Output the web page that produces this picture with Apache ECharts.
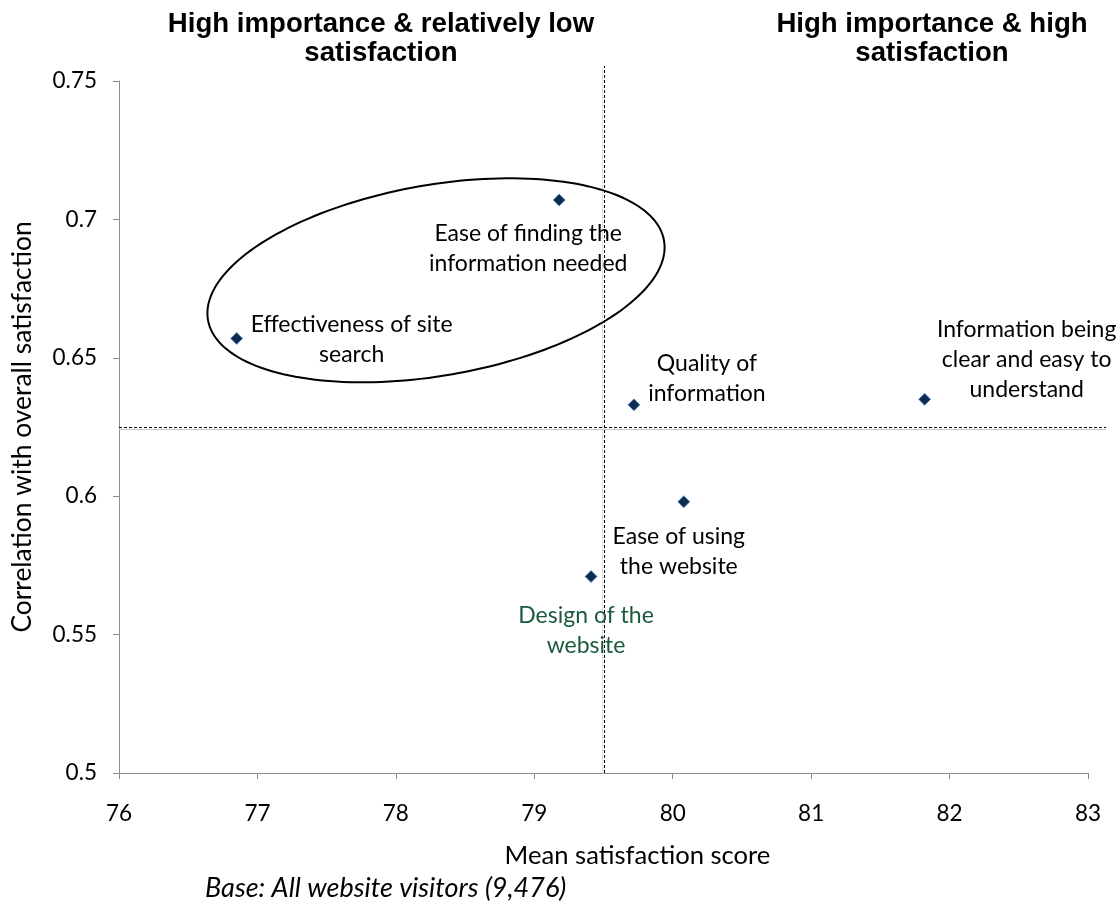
<!DOCTYPE html>
<html>
<head>
<meta charset="utf-8">
<title>Satisfaction drivers</title>
<script src="https://cdn.jsdelivr.net/npm/echarts@6/dist/echarts.min.js"></script>
<style>
  html, body { margin: 0; padding: 0; background: #ffffff; }
  #chart { width: 1119px; height: 903px; }
</style>
</head>
<body>
<div id="chart"></div>
<script>
// Website attributes: mean satisfaction score (x) vs correlation with overall satisfaction (y)
const attributes = [
  'Effectiveness of site\nsearch',
  'Ease of finding the\ninformation needed',
  'Quality of\ninformation',
  'Information being\nclear and easy to\nunderstand',
  'Ease of using\nthe website',
  'Design of the\nwebsite'
];
const meanSatisfaction = [76.85, 79.18, 79.72, 81.82, 80.08, 79.41];
const correlation = [0.657, 0.707, 0.633, 0.635, 0.598, 0.571];

const xTicks = [76, 77, 78, 79, 80, 81, 82, 83];
const yTicks = [0.5, 0.55, 0.6, 0.65, 0.7, 0.75];

// Quadrant dividers
const dividerSatisfaction = 79.5;
const dividerCorrelation = 0.625;

// Centre of the highlighted group
const highlightCentre = [78.29, 0.678];

const quadrantTitles = [
  'High importance & relatively low\nsatisfaction',
  'High importance & high\nsatisfaction'
];
const baseNote = 'Base: All website visitors (9,476)';

// Label placement (pixel offsets from each marker) and colours
const labelOffsets = [[115, 1], [-31, 49], [73, -26], [102, -40], [-5, 50], [-5, 54]];
const labelColors = ['#000000', '#000000', '#000000', '#000000', '#000000', '#1b5a3c'];

const BODY_FONT = 'Lato, "Open Sans", sans-serif';
const TITLE_FONT = '"Liberation Sans", Arial, sans-serif';
const AXIS_GREY = '#8c8c8c';

const X_MIN = xTicks[0], X_MAX = xTicks[xTicks.length - 1];
const Y_MIN = yTicks[0], Y_MAX = yTicks[yTicks.length - 1];

const points = attributes.map((name, i) => ({
  name: name,
  value: [meanSatisfaction[i], correlation[i]],
  label: {
    show: true,
    formatter: name,
    position: 'inside',
    offset: labelOffsets[i],
    align: 'center',
    verticalAlign: 'middle',
    color: labelColors[i],
    fontFamily: BODY_FONT,
    fontWeight: 'normal',
    fontSize: 23,
    lineHeight: 30
  }
}));

const chart = echarts.init(document.getElementById('chart'));

chart.setOption({
  animation: false,
  backgroundColor: '#ffffff',
  grid: { left: 119, right: 31, top: 81, bottom: 130, containLabel: false },
  xAxis: {
    type: 'value',
    min: X_MIN,
    max: X_MAX,
    interval: 1,
    name: 'Mean satisfaction score',
    nameLocation: 'middle',
    nameGap: 70,
    nameTextStyle: {
      fontFamily: BODY_FONT, fontSize: 25.6, color: '#000',
      padding: [0, 0, 0, 68]
    },
    axisLine: { show: true, lineStyle: { color: AXIS_GREY, width: 1 } },
    axisTick: { show: true, inside: false, length: 6, lineStyle: { color: AXIS_GREY } },
    axisLabel: { margin: 29, fontFamily: BODY_FONT, fontSize: 22.5, color: '#000' },
    splitLine: { show: false }
  },
  yAxis: {
    type: 'value',
    min: Y_MIN,
    max: Y_MAX,
    interval: 0.05,
    name: 'Correlation with overall satisfaction',
    nameLocation: 'middle',
    nameRotate: 90,
    nameGap: 84,
    nameTextStyle: { fontFamily: BODY_FONT, fontSize: 26.4, color: '#000' },
    axisLine: { show: true, lineStyle: { color: AXIS_GREY, width: 1 } },
    axisTick: { show: true, inside: false, length: 6, lineStyle: { color: AXIS_GREY } },
    axisLabel: {
      margin: 22,
      fontFamily: BODY_FONT,
      fontSize: 22.5,
      color: '#000',
      formatter: v => String(Math.round(v * 100) / 100)
    },
    splitLine: { show: false }
  },
  graphic: [
    {
      type: 'text', x: 381, y: 10,
      style: {
        text: quadrantTitles[0], align: 'center', verticalAlign: 'top',
        font: 'bold 27.6px ' + TITLE_FONT, lineHeight: 29, fill: '#000'
      }
    },
    {
      type: 'text', x: 932, y: 10,
      style: {
        text: quadrantTitles[1], align: 'center', verticalAlign: 'top',
        font: 'bold 27.6px ' + TITLE_FONT, lineHeight: 29, fill: '#000'
      }
    },
    {
      type: 'text', x: 205, y: 888,
      style: {
        text: baseNote, align: 'left', verticalAlign: 'middle',
        font: 'italic 27px ' + BODY_FONT, fill: '#000'
      }
    }
  ],
  series: [
    {
      // Quadrant divider lines, slightly extended past the plot edges
      type: 'custom',
      silent: true,
      z: 1,
      data: [[dividerSatisfaction, dividerCorrelation]],
      renderItem: function (params, api) {
        const p = api.coord([api.value(0), api.value(1)]);
        const bottom = api.coord([api.value(0), Y_MIN]);
        const top = api.coord([api.value(0), Y_MAX]);
        const left = api.coord([X_MIN, api.value(1)]);
        const right = api.coord([X_MAX, api.value(1)]);
        const vx = Math.round(p[0]) + 0.5;
        const hy = Math.round(p[1]) + 0.5;
        const dash = { stroke: '#000', lineWidth: 1, lineDash: [3, 2] };
        return {
          type: 'group',
          children: [
            { type: 'line', shape: { x1: left[0], y1: hy + 2, x2: right[0] + 18, y2: hy + 2 },
              style: { stroke: '#c8c8c8', lineWidth: 1 } },
            { type: 'line', shape: { x1: vx - 2, y1: bottom[1], x2: vx - 2, y2: top[1] - 15 },
              style: { stroke: '#e0e0e0', lineWidth: 1 } },
            { type: 'line', shape: { x1: vx, y1: bottom[1], x2: vx, y2: top[1] - 15 }, style: dash },
            { type: 'line', shape: { x1: left[0], y1: hy, x2: right[0] + 18, y2: hy }, style: dash }
          ]
        };
      }
    },
    {
      // Ellipse around the high-importance / low-satisfaction group
      type: 'custom',
      silent: true,
      z: 2,
      data: [highlightCentre],
      renderItem: function (params, api) {
        const c = api.coord([api.value(0), api.value(1)]);
        const unit = api.size([1, 0])[0];
        const a = 1.672 * unit;
        const b = 0.689 * unit;
        const rot = 9.9 * Math.PI / 180;
        const pts = [];
        const n = 180;
        for (let i = 0; i < n; i++) {
          const t = (i / n) * Math.PI * 2;
          const dx = a * Math.cos(t);
          const dy = b * Math.sin(t);
          pts.push([
            c[0] + dx * Math.cos(rot) + dy * Math.sin(rot),
            c[1] - dx * Math.sin(rot) + dy * Math.cos(rot)
          ]);
        }
        return {
          type: 'polygon',
          shape: { points: pts },
          style: { fill: 'none', stroke: '#000', lineWidth: 2 }
        };
      }
    },
    {
      type: 'scatter',
      z: 5,
      symbol: 'diamond',
      symbolSize: 12,
      itemStyle: { color: '#0f2b4f', borderColor: '#5a8fd0', borderWidth: 0.8, opacity: 1 },
      data: points
    }
  ]
});
</script>
</body>
</html>
